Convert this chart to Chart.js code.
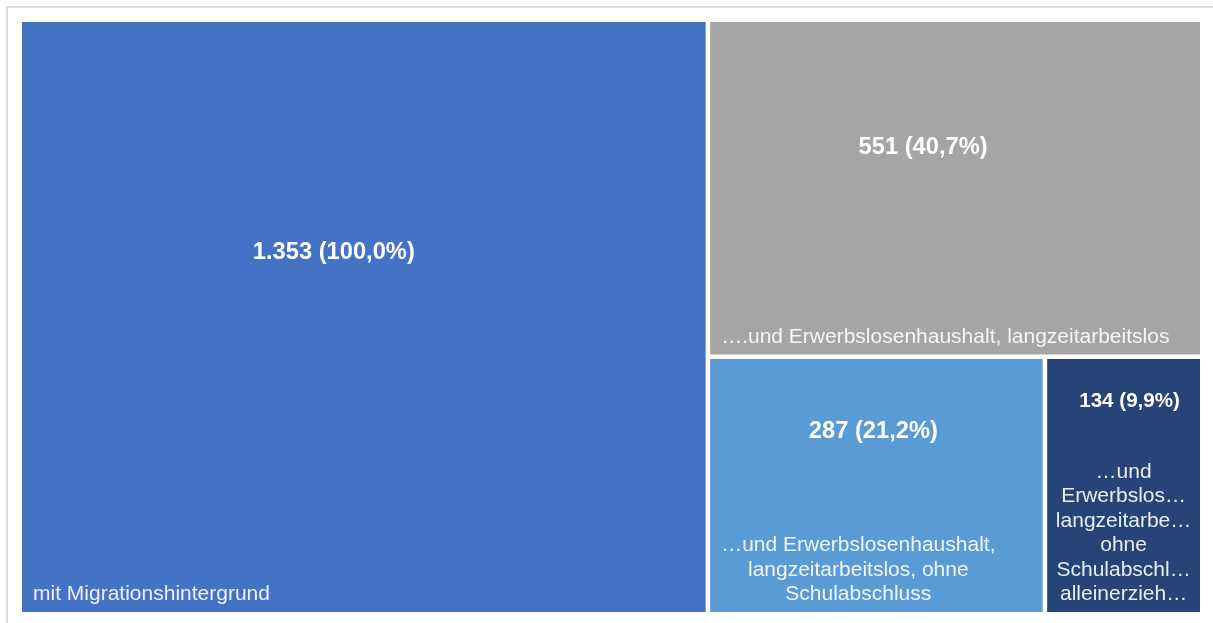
<!DOCTYPE html>
<html lang="de">
<head>
<meta charset="utf-8">
<title>Treemap</title>
<script src="https://cdn.jsdelivr.net/npm/chart.js@4.4.1/dist/chart.umd.min.js"></script>
<style>
  html, body { margin: 0; padding: 0; background: #fff; }
  #wrap { position: relative; width: 1213px; height: 623px; overflow: hidden; }
  #frame { position: absolute; left: 6px; top: 6px; right: 0; bottom: 0;
           border-top: 2px solid #dedede; border-left: 2px solid #dedede; }
  canvas { position: absolute; left: 0; top: 0; }
</style>
</head>
<body>
<div id="wrap">
  <div id="frame"></div>
  <canvas id="treemap" width="1213" height="623"></canvas>
</div>
<script>
// data
const categories = [
    'mit Migrationshintergrund',
    '….und Erwerbslosenhaushalt, langzeitarbeitslos',
    '…und Erwerbslosenhaushalt, langzeitarbeitslos, ohne Schulabschluss',
    '…und Erwerbslosenhaushalt, langzeitarbeitslos, ohne Schulabschluss, alleinerziehend'
];
const values = [1353, 551, 287, 134];
const colors = ['#4472C4', '#A5A5A5', '#5B9BD5', '#264478'];

// small horizontal nudges of the value labels (px), as seen in the original
const labelNudge = [-30, -32, -3, 6];

const GAP = 4.5;
const FONT = '"Liberation Sans", Arial, sans-serif';

function fmtInt(n) {
    return String(n).replace(/\B(?=(\d{3})+(?!\d))/g, '.');
}

function fmtPct(p) {
    return p.toFixed(1).replace('.', ',') + '%';
}

function worst(row, side) {
    const s = row.reduce((a, b) => a + b, 0);
    const mx = Math.max(...row), mn = Math.min(...row);
    return Math.max(side * side * mx / (s * s), (s * s) / (side * side * mn));
}

// squarified treemap layout, returns rects in pixel space
function squarify(areas, x, y, w, h) {
    const out = [];
    let i = 0;
    while (i < areas.length) {
        const side = Math.min(w, h);
        const row = [areas[i]];
        let j = i + 1;
        while (j < areas.length && worst(row.concat(areas[j]), side) <= worst(row, side)) {
            row.push(areas[j]);
            j++;
        }
        const s = row.reduce((a, b) => a + b, 0);
        if (w >= h) {
            const cw = s / h;
            let cy = y;
            row.forEach(a => { const rh = a / cw; out.push({ x, y: cy, w: cw, h: rh }); cy += rh; });
            x += cw; w -= cw;
        } else {
            const rh = s / w;
            let cx = x;
            row.forEach(a => { const rw = a / rh; out.push({ x: cx, y, w: rw, h: rh }); cx += rw; });
            y += rh; h -= rh;
        }
        i = j;
    }
    return out;
}

// word wrap, words that are too long get cut with an ellipsis
function wrapWords(ctx, text, maxW) {
    const fit = word => {
        if (ctx.measureText(word).width <= maxW) return word;
        let s = word;
        while (s.length > 1 && ctx.measureText(s + '…').width > maxW) s = s.slice(0, -1);
        return s.replace(/[,\s]+$/, '') + '…';
    };
    const lines = [];
    let cur = '';
    text.split(' ').forEach(word => {
        const test = cur ? cur + ' ' + word : word;
        if (ctx.measureText(test).width <= maxW) {
            cur = test;
        } else {
            if (cur) lines.push(cur);
            cur = fit(word);
        }
    });
    if (cur) lines.push(cur);
    return lines;
}

const treemapPlugin = {
    id: 'treemap',
    afterDatasetsDraw(chart) {
        const { ctx, scales: { x, y } } = chart;
        const left = x.getPixelForValue(0), right = x.getPixelForValue(1);
        const top = y.getPixelForValue(0), bottom = y.getPixelForValue(1);
        const w = right - left, h = bottom - top;
        const total = values.reduce((a, b) => a + b, 0);
        const areas = values.map(v => v / total * w * h);
        const rects = squarify(areas, left, top, w, h);

        ctx.save();
        rects.forEach((r, i) => {
            const rw = r.w - GAP, rh = r.h - GAP;
            ctx.fillStyle = colors[i];
            ctx.fillRect(r.x, r.y, rw, rh);

            // category label, bottom of tile
            ctx.font = '21px ' + FONT;
            const lines = wrapWords(ctx, categories[i], rw - 16.5);
            const blockW = Math.max(...lines.map(l => ctx.measureText(l).width));
            const padL = Math.min(11, (rw - blockW) / 2);
            const lineH = 24.4;
            const lastBase = r.y + rh - 12;
            ctx.fillStyle = 'rgba(255,255,255,0.9)';
            ctx.textBaseline = 'alphabetic';
            ctx.textAlign = 'center';
            lines.forEach((l, k) => {
                ctx.fillText(l, r.x + padL + blockW / 2, lastBase - (lines.length - 1 - k) * lineH);
            });
            const catTop = lastBase - (lines.length - 1) * lineH - 15;

            // value label
            const pct = values[i] / values[0] * 100;
            const fs = Math.min(23.7, rw * 0.135);
            ctx.font = 'bold ' + fs.toFixed(1) + 'px ' + FONT;
            ctx.fillStyle = '#ffffff';
            ctx.textBaseline = 'middle';
            const vy = r.y + 0.41 * (catTop - r.y);
            ctx.fillText(fmtInt(values[i]) + ' (' + fmtPct(pct) + ')', r.x + rw / 2 + labelNudge[i], vy);
        });
        ctx.restore();
    }
};

new Chart(document.getElementById('treemap'), {
    type: 'scatter',
    data: { datasets: [{ data: [] }] },
    options: {
        responsive: false,
        animation: false,
        layout: { padding: { left: 22, top: 22, right: 8.5, bottom: 6.5 } },
        plugins: { legend: { display: false }, tooltip: { enabled: false } },
        scales: {
            x: { type: 'linear', min: 0, max: 1, display: false },
            y: { type: 'linear', min: 0, max: 1, reverse: true, display: false }
        }
    },
    plugins: [treemapPlugin]
});
</script>
</body>
</html>
